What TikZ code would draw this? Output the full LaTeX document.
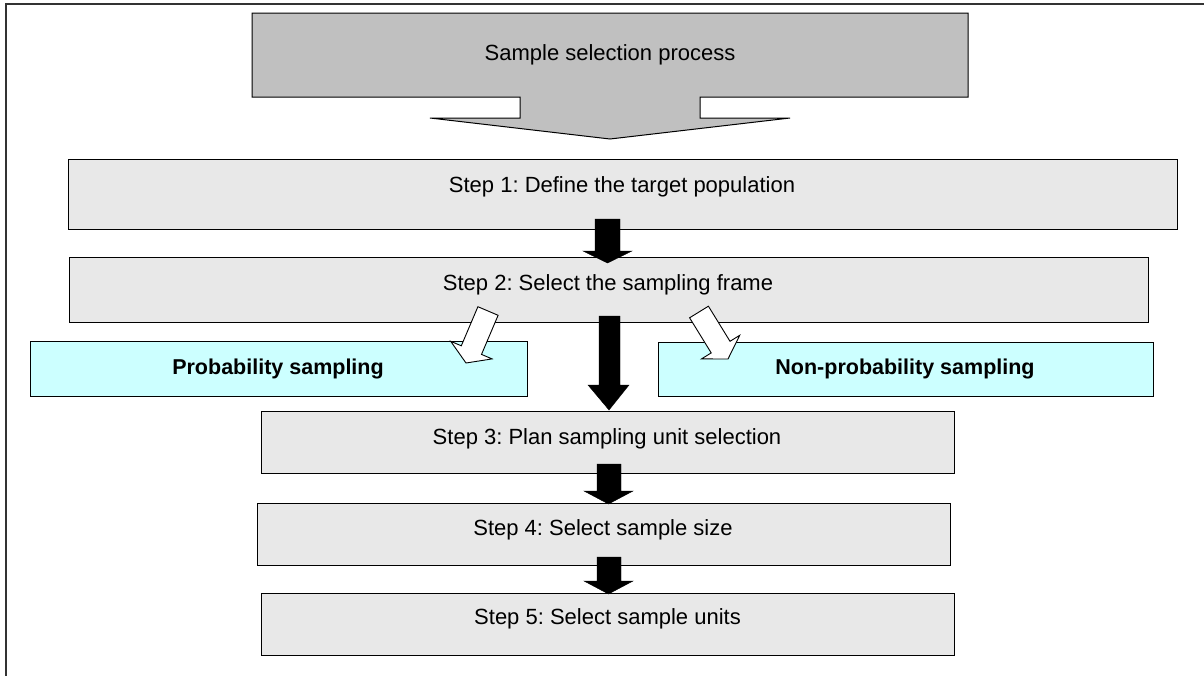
\documentclass[tikz,border=0pt]{standalone}
\usepackage{fontspec}
\setmainfont{Liberation Sans}
\frenchspacing
\definecolor{bigarrow}{HTML}{C0C0C0}
\definecolor{stepgray}{HTML}{E8E8E8}
\definecolor{samplecyan}{HTML}{CCFFFF}
\begin{document}
\frenchspacing
\begin{tikzpicture}[x=1pt,y=-1pt,
  stepbox/.style={draw=black, line width=0.9pt, fill=stepgray, inner sep=0pt, outer sep=0pt},
  kindbox/.style={draw=black, line width=0.9pt, fill=samplecyan, inner sep=0pt, outer sep=0pt},
  steptext/.style={anchor=base, inner sep=0pt, font=\fontsize{22}{26}\selectfont},
  kindtext/.style={anchor=base, inner sep=0pt, font=\fontsize{21.5}{26}\selectfont\bfseries},
  blackarrow/.style={fill=black, draw=black, line width=0.4pt},
  hollowarrow/.style={fill=white, draw=black, line width=0.9pt, line join=miter},
  framed/.style={draw=black!80, line width=1.3pt}
]
\useasboundingbox (0,0) rectangle (1204,675);

% outer frame (top and left edges visible)
\draw[framed] (1210,4) -- (6,4) -- (6,680);

% big grey block arrow
\draw[fill=bigarrow, line width=1pt, line join=miter]
  (252,13) -- (968,13) -- (968,97) -- (700,97) -- (700,118) -- (790,118)
  -- (610,139) -- (430,118) -- (520,118) -- (520,97) -- (252,97) -- cycle;
\node[steptext] (title) at (610,60) {Sample selection process};

% step boxes
\node[stepbox, minimum width=1109pt, minimum height=70pt] (s1) at (622.5,194) {};
\node[stepbox, minimum width=1079pt, minimum height=65pt] (s2) at (608.5,289.5) {};
\node[kindbox, minimum width=497pt, minimum height=55pt] (prob) at (278.5,368.5) {};
\node[kindbox, minimum width=495pt, minimum height=54pt] (nonprob) at (905.5,369) {};
\node[stepbox, minimum width=693pt, minimum height=62pt] (s3) at (607.5,442) {};
\node[stepbox, minimum width=693pt, minimum height=62pt] (s4) at (603.5,534) {};
\node[stepbox, minimum width=693pt, minimum height=62pt] (s5) at (607.5,624) {};

% texts
\node[steptext] (t1) at (622,192) {Step 1: Define the target population};
\node[steptext] (t2) at (608,290) {Step 2: Select the sampling frame};
\node[kindtext] (tp) at (278,374) {Probability sampling};
\node[kindtext] (tn) at (905,374) {Non-probability sampling};
\node[steptext] (t3) at (607,444) {Step 3: Plan sampling unit selection};
\node[steptext] (t4) at (603,535) {Step 4: Select sample size};
\node[steptext] (t5) at (607.5,624) {Step 5: Select sample units};

% black arrows between steps
\draw[blackarrow] (595,219) -- (620,219) -- (620,251) -- (632,251) -- (607.5,263)
  -- (583,251) -- (595,251) -- cycle;
\draw[blackarrow] (599,316) -- (620,316) -- (620,385) -- (629,385) -- (609,410)
  -- (588,385) -- (599,385) -- cycle;
\draw[blackarrow] (597,464) -- (621,464) -- (621,491) -- (633,491) -- (608.5,504)
  -- (584,491) -- (597,491) -- cycle;
\draw[blackarrow] (597,557) -- (621,557) -- (621,581) -- (633,581) -- (608.5,594)
  -- (584,581) -- (597,581) -- cycle;

% hollow arrows to sampling kinds
\draw[hollowarrow] (498.1,315.3) -- (481.5,354.4) -- (492.1,358.9) -- (466,363)
  -- (450.7,341.3) -- (461.3,345.8) -- (477.9,306.7) -- cycle;
\draw[hollowarrow] (708.4,306.2) -- (730.0,341.3) -- (739.7,335.3) -- (728,359)
  -- (701.5,358.9) -- (711.2,352.9) -- (689.6,317.8) -- cycle;
\end{tikzpicture}
\end{document}
